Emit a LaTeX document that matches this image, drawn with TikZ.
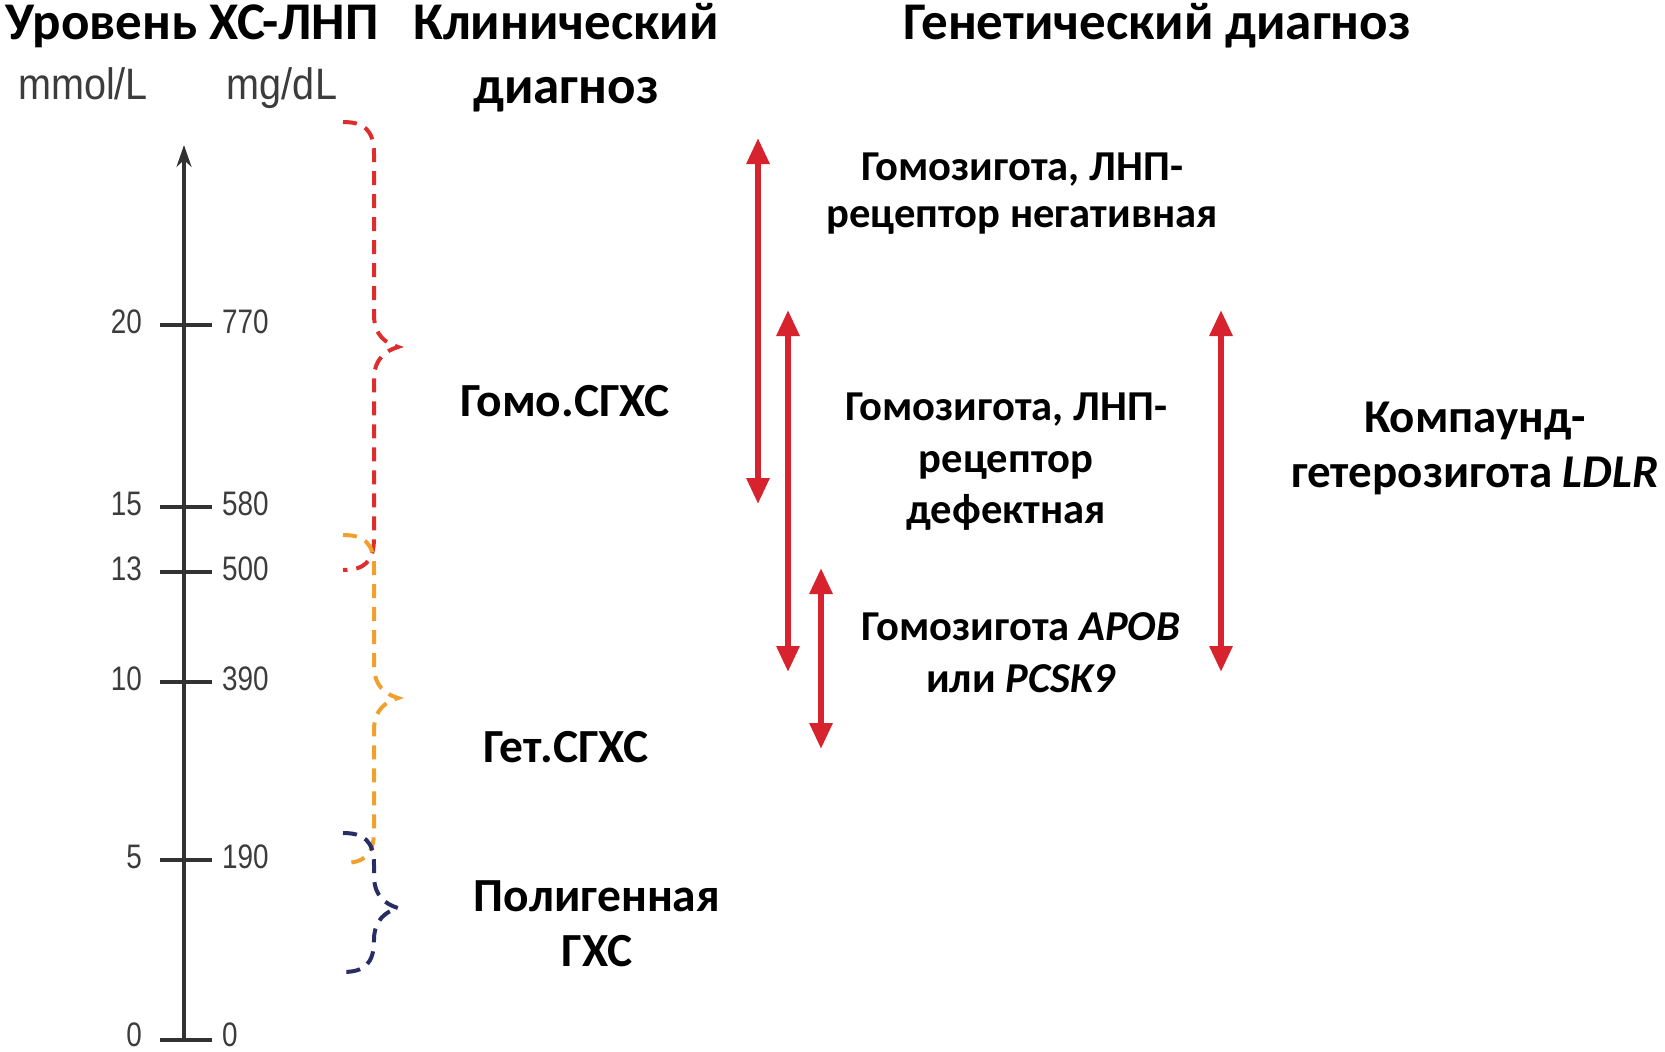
\documentclass[tikz,border=0pt]{standalone}
\usepackage{fontspec}
\setmainfont{Carlito}
\newfontfamily\axisfont[FakeStretch=0.82]{Liberation Sans}
\newfontfamily\unitfont[FakeStretch=0.9]{Liberation Sans}
\usetikzlibrary{arrows.meta}
\definecolor{axisgray}{RGB}{50,50,50}
\definecolor{numgray}{RGB}{60,60,60}
\definecolor{bred}{RGB}{222,45,45}
\definecolor{borange}{RGB}{240,160,45}
\definecolor{bnavy}{RGB}{40,45,100}
\definecolor{ared}{RGB}{215,35,45}
\tikzset{
  hdr/.style={font=\bfseries\fontsize{53}{62}\selectfont, anchor=base, inner sep=0pt},
  diag/.style={font=\bfseries\fontsize{47.5}{56}\selectfont, anchor=base, inner sep=0pt},
  gen/.style={font=\bfseries\fontsize{42.6}{50}\selectfont, anchor=base, inner sep=0pt},
  genbig/.style={font=\bfseries\fontsize{47}{54}\selectfont, anchor=base, inner sep=0pt},
  unit/.style={font=\unitfont\fontsize{44}{50}\selectfont, text=numgray, anchor=base, inner sep=0pt},
  num/.style={font=\axisfont\fontsize{34}{40}\selectfont, text=numgray, inner sep=0pt, text height=24pt, text depth=0pt},
  tickline/.style={axisgray, line width=4pt},
  bracestyle/.style={line width=4pt, dash pattern=on 14pt off 9pt},
  genarrow/.style={ared, line width=6pt, {Triangle[length=26pt,width=22pt]}-{Triangle[length=26pt,width=22pt]}},
}
\newcommand\drawbrace[4]{%
  \draw[bracestyle,#1] (343,#2) .. controls (364,#2) and (374,#2+8) .. (374,#2+32)
    -- (374,#3-30) .. controls (375,#3-12) and (385,#3-4) .. (398,#3)
    .. controls (385,#3+4) and (375,#3+12) .. (374,#3+30)
    -- (374,#4-32) .. controls (374,#4-8) and (364,#4) .. (343,#4);}
\begin{document}
\begin{tikzpicture}[x=1pt,y=-1pt]
\useasboundingbox (0,0) rectangle (1665,1052);
% headers
\node[hdr] (h1) at (192,39) {Уровень ХС-ЛНП};
\node[hdr] (h2) at (566,39) {Клинический};
\node[hdr] (h3) at (566,103) {диагноз};
\node[hdr] (h4) at (1157,39) {Генетический диагноз};
\node[unit] (u1) at (83,99) {mmol/L};
\node[unit] (u2) at (282,99) {mg/dL};
% axis
\coordinate (ax0) at (184,1040);
\coordinate (axtop) at (184,145);
\draw[axisgray, line width=3.5pt, -{Stealth[length=22pt,width=15pt]}] (ax0) -- (axtop);
\foreach \v/\m/\y/\ly in {20/770/325/321, 15/580/507/503, 13/500/572/568, 10/390/682/678, 5/190/860/856, 0/0/1040/1034}{
  \coordinate (tl\v) at (160,\y);
  \coordinate (tr\v) at (212,\y);
  \draw[tickline] (tl\v) -- (tr\v);
  \node[num, anchor=east] (nl\v) at (142,\ly) {\v};
  \node[num, anchor=west] (nr\v) at (222,\ly) {\m};
}
% braces
\drawbrace{bred}{122}{347}{570}
\drawbrace{borange}{535}{698}{863}
\drawbrace{bnavy}{833}{908}{972}
% clinical diagnoses
\node[diag] (d1) at (565,416) {Гомо.СГХС};
\node[diag] (d2) at (566,762) {Гет.СГХС};
\node[diag] (d3a) at (597,911) {Полигенная};
\node[diag] (d3b) at (597,966) {ГХС};
% genetic arrows
\coordinate (a1t) at (758,138); \coordinate (a1b) at (758,504);
\coordinate (a2t) at (788,310); \coordinate (a2b) at (788,672);
\coordinate (a3t) at (821,568); \coordinate (a3b) at (821,749);
\coordinate (a4t) at (1221,310); \coordinate (a4b) at (1221,672);
\draw[genarrow] (a1t) -- (a1b);
\draw[genarrow] (a2t) -- (a2b);
\draw[genarrow] (a3t) -- (a3b);
\draw[genarrow] (a4t) -- (a4b);
% genetic labels
\node[gen] (g1a) at (1022,180) {Гомозигота, ЛНП-};
\node[gen] (g1b) at (1022,227) {рецептор негативная};
\node[gen] (g2a) at (1006,420) {Гомозигота, ЛНП-};
\node[gen] (g2b) at (1006,472) {рецептор};
\node[gen] (g2c) at (1006,523) {дефектная};
\node[gen] (g3a) at (1021,640) {Гомозигота \textit{APOB}};
\node[gen] (g3b) at (1021,692) {или \textit{PCSK9}};
\node[genbig] (g4a) at (1475,432) {Компаунд-};
\node[genbig] (g4b) at (1475,487) {гетерозигота \textit{LDLR}};
\end{tikzpicture}
\end{document}
